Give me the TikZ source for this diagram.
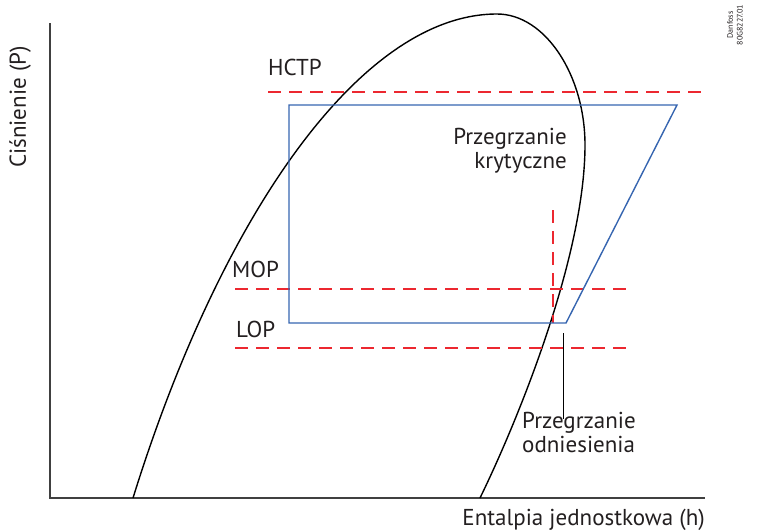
\documentclass[tikz,border=0pt]{standalone}
\usepackage{fontspec}
\setmainfont{PT Sans}
\begin{document}
\begin{tikzpicture}[x=1pt,y=-1pt,
  axisline/.style={draw=axisgray,line width=1.8pt},
  domecurve/.style={draw=black,line width=1.4pt,line join=round},
  cycleline/.style={draw=cycleblue,line width=1.4pt,line join=miter},
  limitline/.style={draw=limitred,line width=1.4pt,dash pattern=on 13pt off 8pt},
  leader/.style={draw=black,line width=1pt},
  lbl/.style={inner sep=0pt,font=\fontsize{23}{24}\selectfont,text=textgray},
  tinylbl/.style={inner sep=0pt,font=\fontsize{8}{9.8}\selectfont,text=textgray,align=center}]
\definecolor{axisgray}{RGB}{64,64,64}
\definecolor{textgray}{RGB}{35,31,32}
\definecolor{cycleblue}{RGB}{54,101,176}
\definecolor{limitred}{RGB}{236,40,48}
\useasboundingbox (0,0) rectangle (758,531);

% axes
\coordinate (yaxtop) at (50,23);
\coordinate (origin) at (50,498);
\coordinate (xaxend) at (705,498);
\draw[axisline] (yaxtop) -- (origin) -- (xaxend);

% saturation dome
\coordinate (liqfoot) at (133,498);
\coordinate (apex) at (497,14);
\coordinate (vapbulge) at (585,145);
\coordinate (vapfoot) at (480,498);
\draw[domecurve] (liqfoot) .. controls (220,218) and (360,14) .. (apex)
  .. controls (545,14) and (585,75) .. (vapbulge)
  .. controls (585,255) and (519,418) .. (vapfoot);

% pressure limits
\coordinate (hctpA) at (268,92);  \coordinate (hctpB) at (705,92);
\coordinate (mopA) at (235,289);  \coordinate (mopB) at (630,289);
\coordinate (lopA) at (235,348);  \coordinate (lopB) at (630,348);
\coordinate (shA) at (553,210);   \coordinate (shB) at (553,323);
\draw[limitline] (hctpA) -- (hctpB);
\draw[limitline] (mopA) -- (mopB);
\draw[limitline] (lopA) -- (lopB);
\draw[limitline] (shA) -- (shB);

% refrigeration cycle
\coordinate (c1) at (289,105);
\coordinate (c2) at (677,105);
\coordinate (c3) at (566,323);
\coordinate (c4) at (289,323);
\draw[cycleline] (c3) -- (c2) -- (c1) -- (c4) -- cycle;

% leader line
\coordinate (ldA) at (563,333);
\coordinate (ldB) at (563,419);
\draw[leader] (ldA) -- (ldB);

% labels
\node[lbl,anchor=base west] (hctp) at (268,75) {HCTP};
\node[lbl,anchor=base west] (mop) at (232,277) {MOP};
\node[lbl,anchor=base west] (lop) at (236,337) {LOP};
\node[lbl,anchor=base east,align=right] (crit) at (567,168) {Przegrzanie\\krytyczne};
\node[lbl,anchor=base west,align=left] (ref) at (522,452) {Przegrzanie\\odniesienia};
\node[lbl,anchor=base east] (xlab) at (705,525) {Entalpia jednostkowa (h)};
\node[lbl,rotate=90] (ylab) at (20,107) {Ciśnienie (P)};
\node[tinylbl,rotate=90] (mark) at (735,25) {Danfoss\\80G8227.01};
\end{tikzpicture}
\end{document}
